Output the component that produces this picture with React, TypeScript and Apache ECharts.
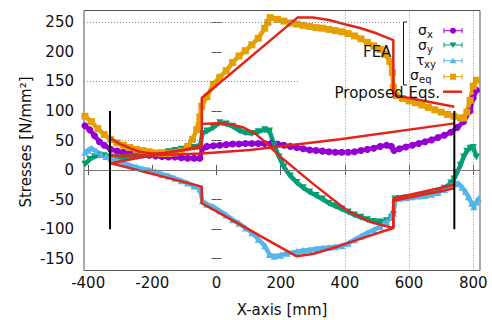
import React, { useEffect, useRef } from 'react';
import * as echarts from 'echarts';

const X_TICKS = [-400, -200, 0, 200, 400, 600, 800];
const Y_TICKS = [-150, -100, -50, 0, 50, 100, 150, 200, 250];
const X_MIN = -413;
const X_MAX = 821;
const Y_MIN = -170;
const Y_MAX = 270;

// FEA results [x (mm), stress (N/mm2)]
const sigmaXFea: number[][] = [
  [-410, 75], [-395, 68], [-380, 58], [-365, 48], [-350, 42], [-330, 35], [-310, 32], [-290, 30], [-270, 28],
  [-250, 27], [-230, 26], [-210, 25], [-190, 24], [-170, 23], [-150, 22], [-130, 22], [-110, 21], [-90, 20],
  [-70, 20], [-52, 20], [-44, 36], [-30, 40], [-10, 41], [10, 42], [30, 43], [50, 44], [70, 44], [90, 45],
  [110, 45], [130, 45], [150, 45], [170, 45], [190, 44], [210, 42], [230, 40], [250, 38], [270, 36], [290, 34],
  [310, 33], [330, 32], [350, 31], [370, 30], [390, 30], [410, 30], [430, 31], [450, 33], [470, 35], [490, 37],
  [510, 40], [530, 42], [545, 40], [553, 33], [570, 36], [590, 39], [610, 42], [630, 45], [650, 48], [670, 51],
  [690, 55], [710, 59], [730, 64], [750, 72], [770, 82], [790, 100], [800, 122], [810, 135],
];
const sigmaYFea: number[][] = [
  [-410, 10], [-395, 18], [-380, 23], [-365, 25], [-350, 24], [-330, 22], [-310, 21], [-290, 21], [-270, 22],
  [-250, 23], [-230, 24], [-210, 25], [-190, 27], [-170, 29], [-150, 31], [-130, 33], [-110, 35], [-90, 37],
  [-70, 38], [-52, 39], [-44, 62], [-30, 66], [-10, 72], [10, 80], [30, 78], [50, 74], [70, 67], [90, 63],
  [110, 62], [130, 65], [150, 68], [165, 66], [180, 42], [195, 22], [210, 5], [230, -10], [250, -21], [270, -30],
  [290, -37], [310, -43], [330, -49], [350, -56], [370, -61], [390, -66], [410, -71], [430, -76], [450, -80],
  [470, -84], [490, -87], [510, -88], [530, -86], [545, -80], [551, -76], [556, -49], [570, -48], [590, -47],
  [610, -46], [630, -44], [650, -43], [670, -41], [690, -38], [710, -31], [730, -22], [740, -15], [750, -4],
  [760, 8], [770, 22], [780, 32], [790, 37], [800, 38], [810, 22],
];
const tauXyFea: number[][] = [
  [-410, 30], [-400, 34], [-390, 37], [-375, 32], [-360, 27], [-345, 23], [-330, 20], [-310, 16], [-290, 12],
  [-270, 8], [-250, 5], [-230, 2], [-210, 0], [-190, -3], [-170, -7], [-150, -10], [-130, -14], [-110, -18],
  [-90, -22], [-70, -27], [-52, -32], [-44, -52], [-30, -58], [-10, -62], [10, -69], [30, -76], [50, -84],
  [70, -90], [90, -98], [110, -106], [130, -117], [150, -128], [165, -143], [180, -146], [200, -144], [220, -141],
  [250, -138], [270, -136], [290, -135], [310, -133], [330, -132], [350, -131], [370, -130], [390, -128],
  [410, -124], [430, -118], [450, -112], [470, -106], [490, -101], [510, -96], [530, -87], [545, -78], [551, -73],
  [556, -49], [570, -48], [590, -47], [610, -45], [630, -44], [650, -43], [670, -41], [690, -38], [710, -33],
  [730, -27], [745, -22], [755, -23], [765, -29], [775, -36], [785, -45], [795, -56], [802, -62], [810, -54],
  [816, -48],
];
const sigmaEqFea: number[][] = [
  [-410, 91], [-390, 82], [-370, 70], [-350, 60], [-330, 52], [-310, 46], [-290, 42], [-270, 38], [-250, 35],
  [-230, 33], [-210, 31], [-190, 29], [-170, 28], [-150, 28], [-130, 29], [-110, 32], [-90, 40], [-75, 52],
  [-62, 68], [-52, 90], [-46, 108], [-30, 124], [-10, 145], [10, 157], [30, 168], [50, 182], [70, 193], [90, 202],
  [110, 212], [130, 223], [150, 240], [160, 250], [167, 258], [190, 255], [210, 252], [230, 249], [250, 247],
  [270, 245], [290, 243], [310, 241], [330, 240], [350, 238], [370, 236], [390, 234], [410, 231], [430, 227],
  [450, 222], [470, 216], [490, 210], [510, 204], [525, 196], [540, 184], [548, 165], [551, 140], [560, 126],
  [580, 121], [600, 117], [620, 114], [640, 110], [660, 106], [680, 102], [700, 98], [720, 94], [740, 91],
  [760, 88], [770, 88], [780, 98], [790, 118], [800, 142], [810, 152],
];

// Proposed equations
const sigmaXEq: number[][] = [[-332, 24], [-200, 25], [-46, 28], [104, 34], [385, 52], [741, 79]];
const sigmaYEq: number[][] = [
  [-332, 11], [-250, 20], [-150, 30], [-46, 38], [-46, 78], [0, 79], [40, 78], [84, 72], [120, 62], [150, 48],
  [200, 22], [300, -23], [406, -68], [480, -88], [551, -98], [551, -48], [741, -25],
];
const tauXyEq: number[][] = [
  [-332, 12], [-46, -28], [-46, -56], [250, -146], [300, -142], [385, -128], [450, -116], [551, -98], [551, -52],
  [741, -31],
];
const sigmaEqEq: number[][] = [
  [-332, 54], [-300, 44], [-270, 37], [-240, 31], [-200, 28], [-160, 29], [-120, 32], [-80, 37], [-46, 42],
  [-46, 122], [252, 258], [300, 258], [350, 254], [406, 246], [450, 240], [500, 231], [551, 220], [551, 127],
  [741, 107],
];

// Support positions (black vertical markers)
const SUPPORT_X = [-332, 741];
const SUPPORT_Y = [-100, 100];

const C_X = '#9400d3';
const C_Y = '#009e73';
const C_T = '#56b4e9';
const C_EQ = '#e69f00';
const C_RED = '#e3241b';
const FONT = 'DejaVu Sans';

function feaSeries(name: string, data: number[][], color: string, symbol: string, rotate = 0) {
  return {
    name,
    type: 'line',
    data,
    symbol,
    symbolSize: 7,
    symbolRotate: rotate,
    showSymbol: true,
    lineStyle: { color, width: 4.5 },
    itemStyle: { color },
    z: 3,
  };
}

function eqSeries(name: string, data: number[][]) {
  return {
    name,
    type: 'line',
    data,
    symbol: 'none',
    lineStyle: { color: C_RED, width: 2.5 },
    z: 4,
  };
}

function legendLabel(main: string, sub: string, xMain: number, xSub: number, yMain: number, ySub: number) {
  return [
    {
      type: 'text', x: xMain, y: yMain, z: 100,
      style: { text: main, fontSize: 14, fontFamily: FONT, fill: '#111', align: 'left', verticalAlign: 'middle' },
    },
    {
      type: 'text', x: xSub, y: ySub, z: 100,
      style: { text: sub, fontSize: 10, fontFamily: FONT, fill: '#111', align: 'left', verticalAlign: 'middle' },
    },
  ];
}

function sample(y: number, color: string, marker: any) {
  return [
    { type: 'line', z: 100, shape: { x1: 444, y1: y, x2: 462, y2: y }, style: { stroke: color, lineWidth: 1 } },
    { type: 'line', z: 100, shape: { x1: 444, y1: y - 2.5, x2: 444, y2: y + 2.5 }, style: { stroke: color, lineWidth: 1 } },
    { type: 'line', z: 100, shape: { x1: 462, y1: y - 2.5, x2: 462, y2: y + 2.5 }, style: { stroke: color, lineWidth: 1 } },
    { ...marker, z: 101, style: { fill: color } },
  ];
}

export default function App() {
  const ref = useRef<HTMLDivElement>(null);
  useEffect(() => {
    if (!ref.current) return;
    const chart = echarts.init(ref.current, null, { renderer: 'svg' });
    const gridLineStyle = { color: '#888', width: 1, type: [1, 2] as any };
    const option: any = {
      animation: false,
      backgroundColor: '#fff',
      grid: { left: 84, right: 12, top: 10.5, bottom: 49.5, show: true, borderColor: '#555', borderWidth: 1 },
      xAxis: [
        {
          type: 'value', min: X_MIN, max: X_MAX, position: 'bottom',
          axisLine: { show: false },
          axisTick: { show: true, inside: true, length: 5, customValues: X_TICKS, lineStyle: { color: '#555' } },
          axisLabel: { customValues: X_TICKS, fontSize: 15, fontFamily: FONT, color: '#111', margin: 5 },
          splitLine: { show: false },
        },
        {
          type: 'value', min: X_MIN, max: X_MAX, position: 'top',
          axisLine: { show: false },
          axisTick: { show: true, inside: true, length: 5, customValues: X_TICKS, lineStyle: { color: '#555' } },
          axisLabel: { show: false },
          splitLine: { show: false },
        },
      ],
      yAxis: [
        {
          type: 'value', min: Y_MIN, max: Y_MAX, position: 'left',
          axisLine: { show: false },
          axisTick: { show: true, inside: true, length: 5, customValues: Y_TICKS, lineStyle: { color: '#555' } },
          axisLabel: { customValues: Y_TICKS, fontSize: 15, fontFamily: FONT, color: '#111', margin: 10 },
          splitLine: { show: false },
        },
        {
          type: 'value', min: Y_MIN, max: Y_MAX, position: 'right',
          axisLine: { show: false },
          axisTick: { show: true, inside: true, length: 5, customValues: Y_TICKS, lineStyle: { color: '#555' } },
          axisLabel: { show: false },
          splitLine: { show: false },
        },
      ],
      series: [
        {
          name: 'grid',
          type: 'line',
          data: [],
          z: 1,
          silent: true,
          markLine: {
            symbol: 'none',
            silent: true,
            label: { show: false },
            lineStyle: gridLineStyle,
            data: [
              [{ coord: [X_MIN, 250] }, { coord: [577, 250] }],
              [{ coord: [X_MIN, 150] }, { coord: [260, 150] }],
              [{ coord: [-332, 50] }, { coord: [-50, 50] }],
              [{ coord: [400, Y_MIN] }, { coord: [400, Y_MAX] }],
              [{ coord: [600, Y_MIN] }, { coord: [600, Y_MAX] }],
              [{ coord: [800, Y_MIN] }, { coord: [800, Y_MAX] }],
              [{ coord: [X_MIN, 0] }, { coord: [X_MAX, 0], lineStyle: { color: '#777', width: 1, type: 'solid' } }],
            ],
          },
        },
        feaSeries('σx', sigmaXFea, C_X, 'circle'),
        feaSeries('σy', sigmaYFea, C_Y, 'triangle', 180),
        feaSeries('τxy', tauXyFea, C_T, 'triangle'),
        feaSeries('σeq', sigmaEqFea, C_EQ, 'rect'),
        eqSeries('σx eq', sigmaXEq),
        eqSeries('σy eq', sigmaYEq),
        eqSeries('τxy eq', tauXyEq),
        eqSeries('σeq eq', sigmaEqEq),
        ...SUPPORT_X.map((sx, i) => ({
          name: 'support' + i,
          type: 'line',
          data: SUPPORT_Y.map((sy) => [sx, sy]),
          symbol: 'none',
          lineStyle: { color: '#000', width: 2 },
          z: 5,
        })),
      ],
      graphic: [
        { type: 'text', x: 282, y: 310, z: 100, style: { text: 'X-axis [mm]', fontSize: 15, fontFamily: FONT, fill: '#111', align: 'center', verticalAlign: 'middle' } },
        { type: 'text', x: 26, y: 142, rotation: Math.PI / 2, z: 100, style: { text: 'Stresses [N/mm²]', fontSize: 15, fontFamily: FONT, fill: '#111', align: 'center', verticalAlign: 'middle' } },
        { type: 'text', x: 363, y: 52, z: 100, style: { text: 'FEA', fontSize: 15, fontFamily: FONT, fill: '#111', align: 'left', verticalAlign: 'middle' } },
        { type: 'line', z: 100, shape: { x1: 403.5, y1: 22, x2: 403.5, y2: 85 }, style: { stroke: '#111', lineWidth: 1 } },
        { type: 'line', z: 100, shape: { x1: 403.5, y1: 22, x2: 407, y2: 22 }, style: { stroke: '#111', lineWidth: 1 } },
        { type: 'line', z: 100, shape: { x1: 403.5, y1: 85, x2: 407, y2: 85 }, style: { stroke: '#111', lineWidth: 1 } },
        ...legendLabel('σ', 'x', 418, 427, 29.5, 34),
        ...legendLabel('σ', 'y', 418, 427, 44.5, 49),
        ...legendLabel('τ', 'xy', 416, 424, 59.5, 64),
        ...legendLabel('σ', 'eq', 410, 419, 75, 79.5),
        ...sample(30.7, C_X, { type: 'circle', shape: { cx: 453, cy: 30.7, r: 3 } }),
        ...sample(45, C_Y, { type: 'polygon', shape: { points: [[449.5, 42.5], [456.5, 42.5], [453, 48]] } }),
        ...sample(60.7, C_T, { type: 'polygon', shape: { points: [[449.5, 63.2], [456.5, 63.2], [453, 57.7]] } }),
        ...sample(76.7, C_EQ, { type: 'rect', shape: { x: 450, y: 73.7, width: 6, height: 6 } }),
        { type: 'text', x: 440, y: 93, z: 100, style: { text: 'Proposed Eqs.', fontSize: 15, fontFamily: FONT, fill: '#111', align: 'right', verticalAlign: 'middle' } },
        { type: 'line', z: 100, shape: { x1: 443, y1: 91.7, x2: 462, y2: 91.7 }, style: { stroke: C_RED, lineWidth: 2.5 } },
      ],
    };
    chart.setOption(option);
    return () => chart.dispose();
  }, []);
  return <div ref={ref} style={{ position: 'absolute', left: 0, top: 0, width: 492, height: 320 }} />;
}
